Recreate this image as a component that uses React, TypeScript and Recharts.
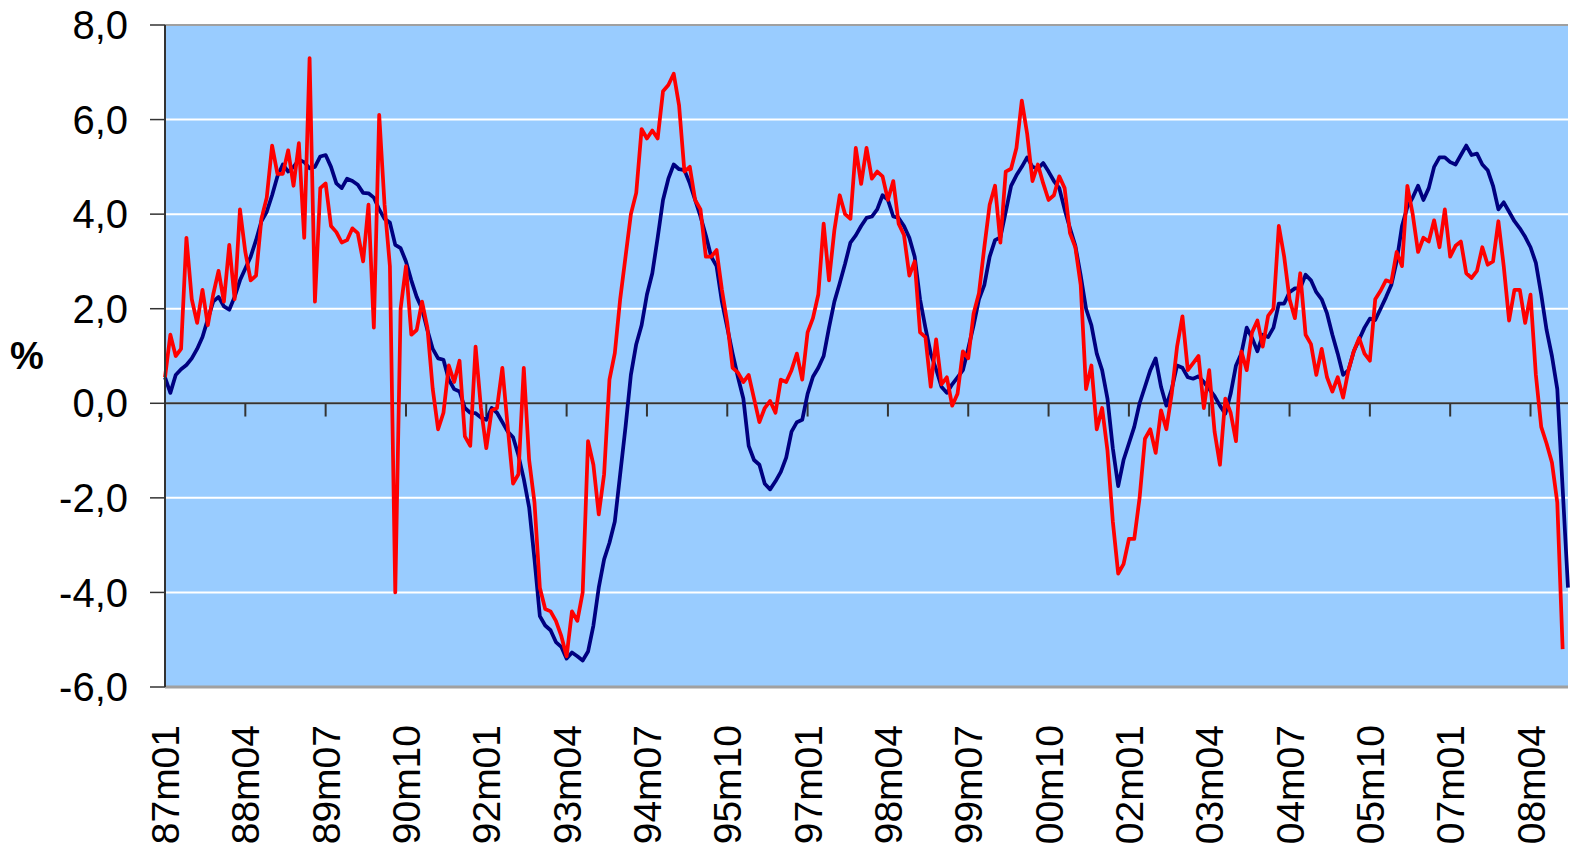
import {
  LineChart,
  Line,
  XAxis,
  YAxis,
  CartesianGrid,
  ReferenceLine,
} from "recharts";

const START_YEAR = 87;

const Y_TICKS = [-6, -4, -2, 0, 2, 4, 6, 8];

const X_TICKS = [
  "87m01", "88m04", "89m07", "90m10", "92m01", "93m04", "94m07", "95m10", "97m01",
  "98m04", "99m07", "00m10", "02m01", "03m04", "04m07", "05m10", "07m01", "08m04",
];

// navy, smoothed series (87m01 .. 08m11)
const TREND = [
  0.55, 0.22, 0.6, 0.72, 0.81, 0.95, 1.15, 1.4, 1.78, 2.15,
  2.25, 2.05, 1.98, 2.25, 2.6, 2.85, 3.1, 3.45, 3.85, 4.05,
  4.4, 4.8, 5.05, 4.9, 5.0, 5.15, 5.1, 4.97, 5.0, 5.22,
  5.25, 5.0, 4.65, 4.55, 4.75, 4.7, 4.62, 4.45, 4.44, 4.35,
  4.1, 3.9, 3.82, 3.35, 3.28, 3.0, 2.6, 2.25, 2.0, 1.55,
  1.15, 0.95, 0.92, 0.5, 0.3, 0.25, -0.1, -0.2, -0.21, -0.3,
  -0.35, -0.1, -0.2, -0.4, -0.6, -0.72, -1.1, -1.6, -2.2, -3.3,
  -4.5, -4.7, -4.8, -5.05, -5.15, -5.4, -5.27, -5.35, -5.44, -5.25,
  -4.7, -3.9, -3.3, -2.95, -2.5, -1.5, -0.5, 0.6, 1.25, 1.65,
  2.3, 2.75, 3.5, 4.3, 4.75, 5.05, 4.95, 4.93, 4.65, 4.3,
  3.95, 3.55, 3.1, 2.9, 2.15, 1.6, 1.05, 0.55, 0.1, -0.9,
  -1.2, -1.3, -1.7, -1.82, -1.65, -1.45, -1.15, -0.6, -0.4, -0.35,
  0.2, 0.56, 0.75, 1.0, 1.6, 2.15, 2.54, 2.95, 3.4, 3.55,
  3.75, 3.92, 3.95, 4.1, 4.4, 4.3, 3.95, 3.92, 3.75, 3.5,
  3.1, 2.2, 1.6, 1.05, 0.72, 0.35, 0.22, 0.4, 0.55, 0.7,
  1.16, 1.65, 2.2, 2.5, 3.1, 3.45, 3.51, 4.05, 4.6, 4.82,
  5.0, 5.2, 5.0, 4.96, 5.08, 4.9, 4.7, 4.55, 4.1, 3.7,
  3.33, 2.7, 2.0, 1.65, 1.05, 0.7, 0.1, -0.95, -1.75, -1.2,
  -0.85, -0.5, 0.0, 0.35, 0.7, 0.95, 0.35, -0.05, 0.3, 0.8,
  0.75, 0.55, 0.52, 0.57, 0.45, 0.3, 0.15, -0.05, -0.22, 0.2,
  0.8, 1.05, 1.6, 1.38, 1.1, 1.45, 1.4, 1.6, 2.11, 2.11,
  2.35, 2.43, 2.43, 2.72, 2.6, 2.35, 2.2, 1.9, 1.45, 1.05,
  0.6, 0.7, 1.1, 1.35, 1.6, 1.79, 1.76, 2.0, 2.24, 2.5,
  3.0, 3.75, 4.15, 4.35, 4.6, 4.3, 4.55, 5.0, 5.2, 5.2,
  5.1, 5.05, 5.25, 5.45, 5.25, 5.28, 5.05, 4.93, 4.6, 4.1,
  4.25, 4.05, 3.85, 3.7, 3.52, 3.3, 2.97, 2.3, 1.55, 1.0,
  0.3, -1.8, -3.9,
];

// red, monthly series (87m01 .. 08m10)
const MONTHLY = [
  0.55, 1.45, 1.0, 1.15, 3.5, 2.2, 1.7, 2.4, 1.65, 2.3,
  2.8, 2.15, 3.35, 2.2, 4.1, 3.2, 2.6, 2.7, 3.9, 4.35,
  5.45, 4.85, 4.85, 5.35, 4.6, 5.5, 3.5, 7.3, 2.15, 4.55,
  4.65, 3.75, 3.62, 3.4, 3.45, 3.7, 3.6, 3.0, 4.2, 1.6,
  6.1, 4.2, 2.9, -4.0, 2.0, 2.9, 1.45, 1.55, 2.15, 1.6,
  0.3, -0.55, -0.2, 0.8, 0.45, 0.9, -0.7, -0.9, 1.2, -0.1,
  -0.95, -0.15, -0.1, 0.75, -0.5, -1.7, -1.5, 0.75, -1.2, -2.1,
  -3.9, -4.35, -4.4, -4.6, -4.92, -5.35, -4.4, -4.6, -4.0, -0.8,
  -1.3, -2.35, -1.5, 0.5, 1.06, 2.2, 3.1, 4.0, 4.45, 5.8,
  5.6, 5.77, 5.6, 6.6, 6.73, 6.97, 6.3, 4.9, 5.0, 4.3,
  4.1, 3.1, 3.1, 3.24, 2.4, 1.7, 0.75, 0.65, 0.45, 0.6,
  0.1, -0.4, -0.1, 0.05, -0.2, 0.5, 0.45, 0.7, 1.05, 0.5,
  1.5, 1.8, 2.3, 3.8, 2.6, 3.66, 4.4, 4.0, 3.9, 5.4,
  4.64, 5.4, 4.75, 4.9, 4.8, 4.3, 4.7, 3.8, 3.56, 2.7,
  3.0, 1.5, 1.4, 0.35, 1.35, 0.4, 0.55, -0.05, 0.2, 1.1,
  0.95, 1.9, 2.33, 3.3, 4.2, 4.6, 3.4, 4.9, 4.96, 5.4,
  6.4, 5.7, 4.7, 5.05, 4.65, 4.3, 4.4, 4.8, 4.55, 3.6,
  3.3, 2.5, 0.3, 0.8, -0.55, -0.1, -1.0, -2.5, -3.6, -3.4,
  -2.87, -2.87, -2.0, -0.75, -0.55, -1.05, -0.15, -0.55, 0.2, 1.2,
  1.84, 0.7, 0.85, 1.0, -0.1, 0.7, -0.6, -1.3, 0.1, -0.2,
  -0.8, 1.1, 0.7, 1.5, 1.75, 1.2, 1.85, 2.0, 3.75, 3.1,
  2.2, 1.8, 2.75, 1.45, 1.25, 0.6, 1.15, 0.55, 0.25, 0.55,
  0.12, 0.7, 1.1, 1.38, 1.05, 0.9, 2.2, 2.38, 2.6, 2.56,
  3.2, 2.9, 4.6, 4.0, 3.2, 3.5, 3.42, 3.87, 3.3, 4.1,
  3.1, 3.33, 3.42, 2.75, 2.65, 2.8, 3.3, 2.93, 3.0, 3.85,
  2.9, 1.75, 2.4, 2.4, 1.7, 2.3, 0.6, -0.5, -0.85, -1.25,
  -2.1, -5.2,
];

const FONT = "'Liberation Sans', Arial, sans-serif";

const pad = (n: number) => String(n).padStart(2, "0");
const monthLabel = (i: number) =>
  `${pad((START_YEAR + Math.floor(i / 12)) % 100)}m${pad((i % 12) + 1)}`;

const data = TREND.map((v, i) => ({
  month: monthLabel(i),
  trend: v,
  monthly: i < MONTHLY.length ? MONTHLY[i] : null,
}));

const fmt = (v: number) => v.toFixed(1).replace(".", ",");

const MonthTick = (props: any) => {
  const { x, y, payload } = props;
  return (
    <text
      x={x}
      y={y}
      transform={`rotate(-90, ${x}, ${y})`}
      textAnchor="end"
      dy="0.36em"
      fontSize={39}
      fontFamily={FONT}
      fill="#000"
    >
      {payload.value}
    </text>
  );
};

export default function App() {
  return (
    <div
      style={{
        position: "absolute",
        left: 0,
        top: 0,
        width: 1571,
        height: 859,
        background: "#fff",
      }}
    >
      <LineChart
        width={1571}
        height={859}
        data={data}
        margin={{ top: 25, right: 3, left: 0, bottom: 0 }}
      >
        <CartesianGrid
          vertical={false}
          stroke="#ffffff"
          strokeWidth={2}
          fill="#99CCFF"
          fillOpacity={1}
        />
        <XAxis
          dataKey="month"
          ticks={X_TICKS}
          interval={0}
          tickLine={false}
          axisLine={false}
          tickSize={0}
          tickMargin={38}
          height={172}
          tick={(p: any) => <MonthTick {...p} />}
        />
        <YAxis
          domain={[-6, 8]}
          ticks={Y_TICKS}
          interval={0}
          width={165}
          tickFormatter={fmt}
          tickSize={15}
          tickMargin={22}
          axisLine={{ stroke: "#333", strokeWidth: 2 }}
          tickLine={{ stroke: "#333", strokeWidth: 1.5 }}
          tick={{ fontSize: 40, fill: "#000", fontFamily: FONT }}
          label={{
            value: "%",
            position: "insideLeft",
            offset: 10,
            style: { fontSize: 38, fontWeight: "bold", fill: "#000", fontFamily: FONT },
          }}
        />
        <ReferenceLine y={8} stroke="#a0a0a0" strokeWidth={2} />
        <ReferenceLine y={-6} stroke="#a0a0a0" strokeWidth={3} />
        <ReferenceLine y={0} stroke="#333" strokeWidth={2} />
        {X_TICKS.map((t) => (
          <ReferenceLine
            key={t}
            segment={[
              { x: t, y: 0 },
              { x: t, y: -0.28 },
            ]}
            stroke="#333"
            strokeWidth={2}
          />
        ))}
        <Line
          type="linear"
          dataKey="trend"
          stroke="#000080"
          strokeWidth={3.75}
          strokeLinejoin="round"
          dot={false}
          isAnimationActive={false}
        />
        <Line
          type="linear"
          dataKey="monthly"
          stroke="#FF0000"
          strokeWidth={3.75}
          strokeLinejoin="round"
          dot={false}
          isAnimationActive={false}
        />
      </LineChart>
    </div>
  );
}
